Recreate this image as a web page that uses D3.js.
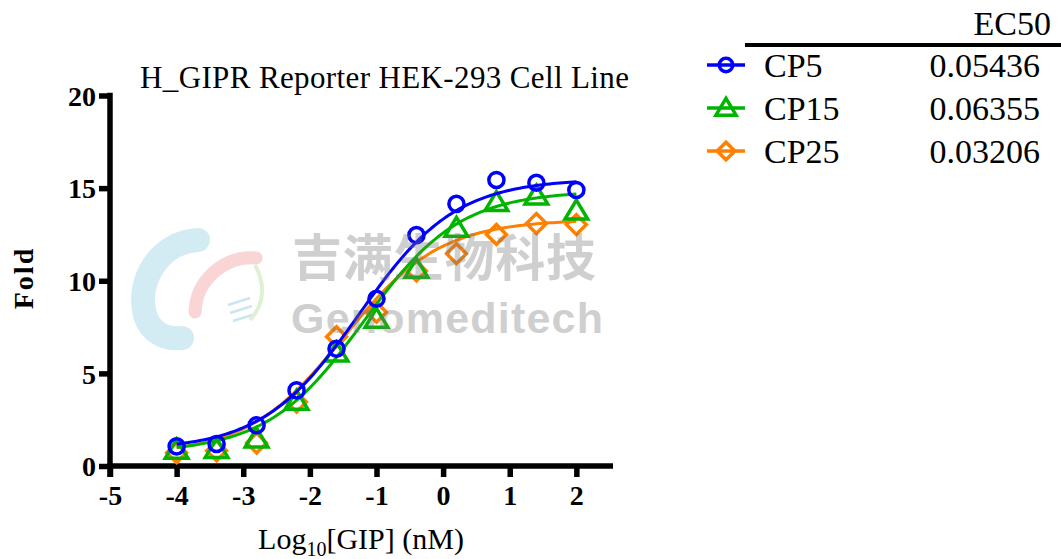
<!DOCTYPE html>
<html>
<head>
<meta charset="utf-8">
<script src="https://cdn.jsdelivr.net/npm/d3@7"></script>
<style>
  body { margin: 0; background: #fff; }
  svg { display: block; }
  svg text { font-family: "Liberation Serif", Tinos, "Times New Roman", "DejaVu Serif", serif !important; }
  svg text.wm-cn { font-family: "Noto Sans CJK SC", sans-serif !important; }
  svg text.wm-en { font-family: "Liberation Sans", Arial, sans-serif !important; }
</style>
</head>
<body>
<svg width="1061" height="559"></svg>
<script>
// Values.
var logDose = [-4, -3.4, -2.8, -2.2, -1.6, -1.0, -0.4, 0.2, 0.8, 1.4, 2.0];
var cp5  = [1.06, 1.19, 2.2, 4.08, 6.33, 9.03, 12.46, 14.15, 15.44, 15.29, 14.9];
var cp15 = [0.86, 0.9, 1.46, 3.5, 6.1, 7.93, 10.63, 12.84, 14.23, 14.58, 13.77];
var cp25 = [0.72, 0.82, 1.24, 3.45, 6.98, 8.3, 10.53, 11.46, 12.5, 13.09, 13.03];

var seriesNames = ["CP5", "CP15", "CP25"];
var ec50 = ["0.05436", "0.06355", "0.03206"];
// 4PL fit parameters (bottom, top, hill); logEC50 comes from the EC50 column
var fitBottom = [0.85, 0.72, 0.6];
var fitTop = [15.5, 14.85, 13.3];
var fitHill = [0.6, 0.6, 0.6];

var xTicks = [-5, -4, -3, -2, -1, 0, 1, 2];
var yTicks = [0, 5, 10, 15, 20];

var colors = ["#0000ff", "#00b400", "#ff8000"];
var shapes = ["circle", "triangle", "diamond"];
var values = [cp5, cp15, cp25];

var svg = d3.select("svg");

var xScale = d3.scaleLinear().domain([-5, 2.55]).range([110, 613]);
var yScale = d3.scaleLinear().domain([0, 20]).range([466, 95.5]);

// watermark logo (behind marks)
var wm = svg.append("g").attr("opacity", 0.45);
wm.append("path")
    .attr("d", "M198,240 C160,242 136,280 145,315 C150,332 165,340 182,338")
    .attr("fill", "none").attr("stroke", "#9fd3e3").attr("stroke-width", 24)
    .attr("stroke-linecap", "round");
wm.append("path")
    .attr("d", "M256,258 C225,255 196,280 195,312")
    .attr("fill", "none").attr("stroke", "#f4a3a3").attr("stroke-width", 13)
    .attr("stroke-linecap", "round");
wm.append("path")
    .attr("d", "M255,265 C266,285 264,305 250,320")
    .attr("fill", "none").attr("stroke", "#b9e0a0").attr("stroke-width", 4);
wm.append("path")
    .attr("d", "M228,305 L250,298 M230,313 L252,306 M233,321 L252,315")
    .attr("stroke", "#8fc8e0").attr("stroke-width", 2.5);

// Axes
var xAxis = d3.axisBottom(xScale).tickValues(xTicks).tickSize(11).tickFormat(d3.format("d"));
var yAxis = d3.axisLeft(yScale).tickValues(yTicks).tickSize(11);

var gx = svg.append("g")
    .attr("transform", "translate(0," + yScale(0) + ")")
    .call(xAxis);
var gy = svg.append("g")
    .attr("transform", "translate(" + xScale(-5) + ",0)")
    .call(yAxis);

[gx, gy].forEach(function(g) {
  g.attr("font-family", null);
  g.select(".domain").attr("stroke", "#000").attr("stroke-width", 5.5);
  g.selectAll(".tick line").attr("stroke", "#000").attr("stroke-width", 5.5);
  g.selectAll(".tick text")
      .attr("fill", "#000")
      .style("font-weight", "bold")
      .style("font-size", "28px");
});
gx.select(".domain").attr("d", "M" + (xScale(-5) - 2.75) + ",0H" + xScale(2.55));
gy.select(".domain").attr("d", "M0," + (yScale(20) - 2.75) + "V" + (yScale(0) + 11));
gx.selectAll(".tick text").attr("dy", "0.9em").text(function(d) { return d < 0 ? "-" + (-d) : d; });
gy.selectAll(".tick text").attr("x", -14).attr("dy", "0.35em");

// Fitted curves and points, drawn orange first, blue on top
function marker(g, shape, size) {
  if (shape === "circle") {
    g.append("circle").attr("r", size * 0.42);
  } else if (shape === "triangle") {
    var s = size * 0.6;
    g.append("path").attr("d", "M0," + (-s) + "L" + (s * 1.05) + "," + (s * 0.75) + "L" + (-s * 1.05) + "," + (s * 0.75) + "Z");
  } else {
    var s2 = size * 0.55;
    g.append("path").attr("d", "M0," + (-s2) + "L" + s2 + ",0L0," + s2 + "L" + (-s2) + ",0Z");
  }
}

var line = d3.line()
    .x(function(d) { return xScale(d[0]); })
    .y(function(d) { return yScale(d[1]); });

var order = [2, 1, 0];
order.forEach(function(i) {
  var logEC = Math.log10(+ec50[i]);
  var curvePts = d3.range(-4, 2.0001, 0.05).map(function(x) {
    return [x, fitBottom[i] + (fitTop[i] - fitBottom[i]) / (1 + Math.pow(10, (logEC - x) * fitHill[i]))];
  });
  svg.append("path")
      .datum(curvePts)
      .attr("fill", "none")
      .attr("stroke", colors[i])
      .attr("stroke-width", 3)
      .attr("d", line);

  svg.append("g").selectAll("g")
      .data(logDose)
      .enter().append("g")
      .attr("transform", function(d, j) { return "translate(" + xScale(d) + "," + yScale(values[i][j]) + ")"; })
      .attr("fill", "none")
      .attr("stroke", colors[i])
      .attr("stroke-width", 3.5)
      .each(function() { marker(d3.select(this), shapes[i], 18); });
});

// watermark words over the plot, semi transparent
svg.append("text")
    .attr("class", "wm-cn")
    .attr("x", 292).attr("y", 276)
    .style("font-weight", "bold")
    .style("font-size", "50px")
    .attr("fill", "#777").attr("opacity", 0.35)
    .attr("textLength", 304)
    .text("吉满生物科技");
svg.append("text")
    .attr("class", "wm-en")
    .attr("x", 291).attr("y", 333)
    .style("font-weight", "bold")
    .style("font-size", "43px")
    .attr("fill", "#777").attr("opacity", 0.35)
    .attr("textLength", 312)
    .text("Genomeditech");

// Title and axis labels
svg.append("text")
    .attr("x", 140).attr("y", 88)
    .style("font-size", "31px")
    .attr("textLength", 489)
    .text("H_GIPR Reporter HEK-293 Cell Line");

var xl = svg.append("text")
    .attr("x", 361).attr("y", 549)
    .attr("text-anchor", "middle")
    .style("font-size", "30px");
xl.append("tspan").text("Log");
xl.append("tspan").attr("dy", 7).style("font-size", "20px").text("10");
xl.append("tspan").attr("dy", -7).text("[GIP] (nM)");

svg.append("text")
    .attr("transform", "translate(33,278) rotate(-90)")
    .attr("text-anchor", "middle")
    .style("font-size", "28px")
    .style("font-weight", "bold")
    .style("letter-spacing", "2px")
    .text("Fold");

// Legend table
var legend = svg.append("g");
legend.append("text")
    .attr("x", 1051).attr("y", 35)
    .attr("text-anchor", "end")
    .style("font-size", "34px")
    .text("EC50");
legend.append("line")
    .attr("x1", 745).attr("x2", 1061)
    .attr("y1", 45).attr("y2", 45)
    .attr("stroke", "#000").attr("stroke-width", 4);

seriesNames.forEach(function(name, i) {
  var cy = 65 + i * 43;
  legend.append("line")
      .attr("x1", 707).attr("x2", 745)
      .attr("y1", cy).attr("y2", cy)
      .attr("stroke", colors[i]).attr("stroke-width", 3.5);
  var m = legend.append("g")
      .attr("transform", "translate(726," + cy + ")")
      .attr("fill", "none")
      .attr("stroke", colors[i])
      .attr("stroke-width", 3.5);
  marker(m, shapes[i], 16);
  legend.append("text")
      .attr("x", 764).attr("y", cy + 12)
      .style("font-size", "34px")
      .text(name);
  legend.append("text")
      .attr("x", 1040).attr("y", cy + 12)
      .attr("text-anchor", "end")
      .style("font-size", "34px")
      .text(ec50[i]);
});
</script>
</body>
</html>
